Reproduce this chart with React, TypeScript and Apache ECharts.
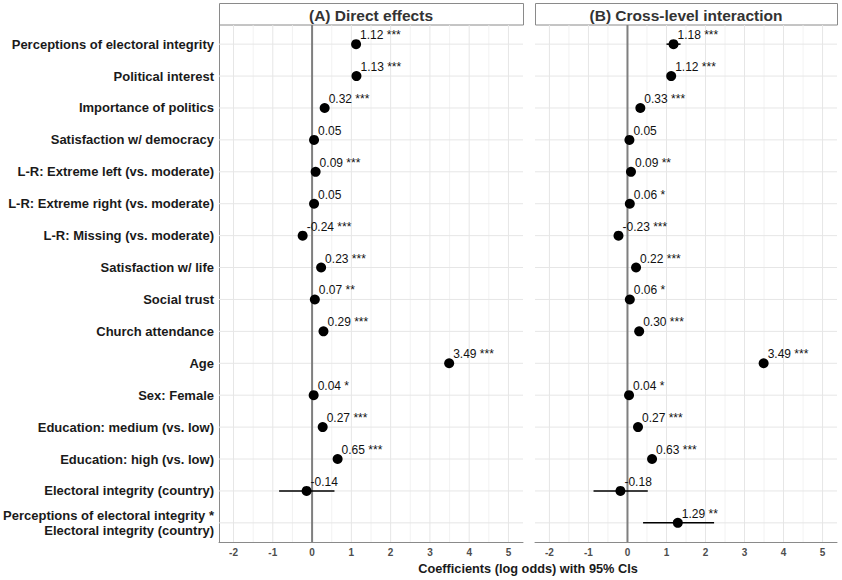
import React, { useEffect, useRef } from "react";
import * as echarts from "echarts";

const categories = [
  "Perceptions of electoral integrity",
  "Political interest",
  "Importance of politics",
  "Satisfaction w/ democracy",
  "L-R: Extreme left (vs. moderate)",
  "L-R: Extreme right (vs. moderate)",
  "L-R: Missing (vs. moderate)",
  "Satisfaction w/ life",
  "Social trust",
  "Church attendance",
  "Age",
  "Sex: Female",
  "Education: medium (vs. low)",
  "Education: high (vs. low)",
  "Electoral integrity (country)",
  "Perceptions of electoral integrity *\nElectoral integrity (country)",
];

const estA = [1.12, 1.13, 0.32, 0.05, 0.09, 0.05, -0.24, 0.23, 0.07, 0.29, 3.49, 0.04, 0.27, 0.65, -0.14, null];
const loA = [1.03, 1.05, 0.25, 0.0, 0.04, 0.0, -0.32, 0.18, 0.02, 0.24, 3.4, 0.0, 0.2, 0.57, -0.84, null];
const hiA = [1.21, 1.21, 0.39, 0.1, 0.14, 0.1, -0.16, 0.28, 0.12, 0.34, 3.58, 0.08, 0.34, 0.73, 0.57, null];
const starsA = ["***", "***", "***", "", "***", "", "***", "***", "**", "***", "***", "*", "***", "***", "", ""];

const estB = [1.18, 1.12, 0.33, 0.05, 0.09, 0.06, -0.23, 0.22, 0.06, 0.3, 3.49, 0.04, 0.27, 0.63, -0.18, 1.29];
const loB = [1.0, 1.04, 0.26, 0.0, 0.03, 0.01, -0.31, 0.17, 0.01, 0.25, 3.4, 0.0, 0.2, 0.55, -0.87, 0.4];
const hiB = [1.36, 1.2, 0.4, 0.1, 0.15, 0.11, -0.15, 0.27, 0.11, 0.35, 3.58, 0.08, 0.34, 0.71, 0.52, 2.22];
const starsB = ["***", "***", "***", "", "**", "*", "***", "***", "*", "***", "***", "*", "***", "***", "", "**"];

const xTicks = [-2, -1, 0, 1, 2, 3, 4, 5];
const xGrid = [-2, -1.5, -1, -0.5, 0, 0.5, 1, 1.5, 2, 2.5, 3, 3.5, 4, 4.5, 5];
const panelTitles = ["(A) Direct effects", "(B) Cross-level interaction"];
const axisTitle = "Coefficients (log odds) with 95% CIs";

const X_MIN = -2.37;
const X_MAX = 5.37;
const Y_MIN = -0.6;
const Y_MAX = 15.6;
const FONT = "'Liberation Sans', Arial, Helvetica, sans-serif";

function fmt(v: number) {
  return v.toFixed(2);
}

function buildSeries(idx: number, est: (number | null)[], lo: (number | null)[], hi: (number | null)[], stars: string[]) {
  const pts: any[] = [];
  const bars: any[] = [];
  est.forEach((v, i) => {
    if (v == null) return;
    pts.push([v, i, (fmt(v) + " " + stars[i]).trim()]);
    bars.push([lo[i], hi[i], i]);
  });
  return [
    {
      type: "custom",
      xAxisIndex: idx,
      yAxisIndex: idx,
      silent: true,
      z: 1,
      encode: { x: 0, y: 1 },
      data: xGrid.map((v) => [v, 0]),
      renderItem: (params: any, api: any) => {
        const v = api.value(0);
        const p1 = api.coord([v, Y_MIN]);
        const p2 = api.coord([v, Y_MAX]);
        const major = Number.isInteger(v);
        return {
          type: "line",
          shape: { x1: p1[0], y1: p1[1], x2: p2[0], y2: p2[1] },
          style: { stroke: major ? "#e6e6e6" : "#efefef", lineWidth: major ? 1 : 0.8 },
        };
      },
    },
    {
      type: "custom",
      xAxisIndex: idx,
      yAxisIndex: idx,
      silent: true,
      z: 1,
      encode: { x: 0, y: 1 },
      data: categories.map((_, i) => [0, i]),
      renderItem: (params: any, api: any) => {
        const y = api.value(1);
        const p1 = api.coord([X_MIN, y]);
        const p2 = api.coord([X_MAX, y]);
        return {
          type: "line",
          shape: { x1: p1[0], y1: p1[1], x2: p2[0], y2: p2[1] },
          style: { stroke: "#e6e6e6", lineWidth: 1 },
        };
      },
    },
    {
      type: "custom",
      xAxisIndex: idx,
      yAxisIndex: idx,
      silent: true,
      z: 2,
      encode: { x: 0, y: 1 },
      data: [[0, 0]],
      renderItem: (params: any, api: any) => {
        const p1 = api.coord([0, Y_MIN]);
        const p2 = api.coord([0, Y_MAX]);
        return {
          type: "line",
          shape: { x1: p1[0], y1: p1[1], x2: p2[0], y2: p2[1] },
          style: { stroke: "#7f7f7f", lineWidth: 2 },
        };
      },
    },
    {
      type: "custom",
      xAxisIndex: idx,
      yAxisIndex: idx,
      silent: true,
      z: 3,
      encode: { x: [0, 1], y: 2 },
      data: bars,
      renderItem: (params: any, api: any) => {
        const y = api.value(2);
        const p1 = api.coord([api.value(0), y]);
        const p2 = api.coord([api.value(1), y]);
        return {
          type: "line",
          shape: { x1: p1[0], y1: p1[1], x2: p2[0], y2: p2[1] },
          style: { stroke: "#000", lineWidth: 1.5 },
        };
      },
    },
    {
      type: "scatter",
      xAxisIndex: idx,
      yAxisIndex: idx,
      z: 4,
      symbol: "circle",
      symbolSize: 10,
      itemStyle: { color: "#000", opacity: 1 },
      data: pts,
      label: {
        show: true,
        position: "right",
        distance: 0,
        offset: [-1, -9],
        formatter: (p: any) => p.value[2],
        color: "#111",
        fontSize: 12,
        fontFamily: FONT,
      },
    },
  ];
}

export default function App() {
  const ref = useRef<HTMLDivElement>(null);
  useEffect(() => {
    if (!ref.current) return;
    const chart = echarts.init(ref.current, null, { renderer: "svg" });
    const grids = [
      { left: 219, top: 25, width: 304, height: 517 },
      { left: 535, top: 25, width: 302, height: 517 },
    ];
    const xAxis = [0, 1].map((i) => ({
      type: "value",
      gridIndex: i,
      min: X_MIN,
      max: X_MAX,
      splitLine: { show: false },
      axisTick: { show: false },
      axisLine: { show: true, onZero: false, lineStyle: { color: "#8a8a8a", width: 1 } },
      axisLabel: {
        customValues: xTicks,
        formatter: (v: number) => String(v),
        fontSize: 10,
        fontWeight: "bold",
        color: "#4d4d4d",
        fontFamily: FONT,
        margin: 5,
      },
    }));
    const yAxis = [0, 1].map((i) => ({
      type: "value",
      gridIndex: i,
      min: Y_MIN,
      max: Y_MAX,
      inverse: true,
      splitLine: { show: false },
      axisTick: { show: false },
      axisLine: { show: i === 0, onZero: false, lineStyle: { color: "#8a8a8a", width: 1 } },
      axisLabel: {
        show: i === 0,
        customValues: categories.map((_, k) => k),
        formatter: (v: number) => categories[Math.round(v)] ?? "",
        fontSize: 13,
        fontWeight: "bold",
        color: "#1a1a1a",
        fontFamily: FONT,
        lineHeight: 15,
        margin: 5,
        align: "right",
      },
    }));
    const graphic: any[] = [];
    grids.forEach((g, i) => {
      graphic.push({
        type: "rect",
        shape: { x: g.left + 0.5, y: 3.5, width: g.width, height: 21.5 },
        style: { fill: "#fff", stroke: "#8a8a8a", lineWidth: 1 },
      });
      graphic.push({
        type: "text",
        x: g.left + g.width / 2,
        y: 15,
        style: {
          text: panelTitles[i],
          fill: "#333",
          font: `bold 15.5px ${FONT}`,
          align: "center",
          verticalAlign: "middle",
        },
      });
    });
    graphic.push({
      type: "text",
      x: (219 + 837) / 2,
      y: 568,
      style: {
        text: axisTitle,
        fill: "#1a1a1a",
        font: `bold 12.75px ${FONT}`,
        align: "center",
        verticalAlign: "middle",
      },
    });
    chart.setOption({
      animation: false,
      backgroundColor: "#fff",
      grid: grids,
      xAxis,
      yAxis,
      graphic,
      series: [
        ...buildSeries(0, estA, loA, hiA, starsA),
        ...buildSeries(1, estB, loB, hiB, starsB),
      ],
    });
    return () => chart.dispose();
  }, []);
  return (
    <div
      ref={ref}
      style={{ position: "fixed", left: 0, top: 0, width: 842, height: 580 }}
    />
  );
}
